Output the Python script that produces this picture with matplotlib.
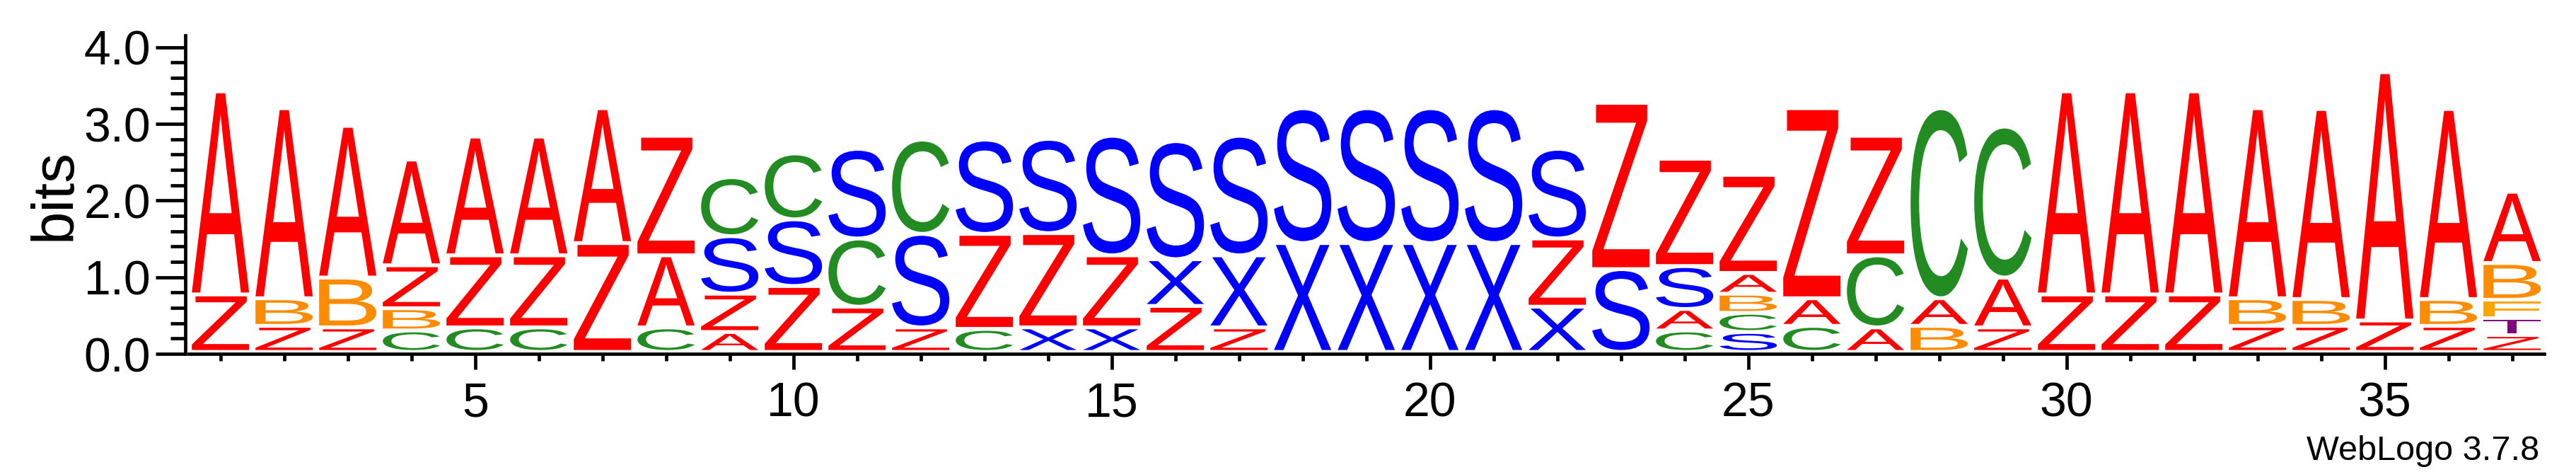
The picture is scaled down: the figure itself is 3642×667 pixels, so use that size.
import matplotlib
matplotlib.use("Agg")
import matplotlib.pyplot as plt
from matplotlib.textpath import TextPath
from matplotlib.patches import PathPatch
from matplotlib.font_manager import FontProperties
from matplotlib.transforms import Affine2D

plt.rcParams['font.family'] = ['Liberation Sans', 'DejaVu Sans']

# letters of each position, bottom to top, with their heights in bits
positions = list(range(1, 38))
stack_letters = [
    "ZA", "ZBA", "ZBA", "CBZA", "CZA", "CZA", "ZA", "CAZ", "AZSC", "ZSC",
    "ZCS", "ZSC", "CZS", "XZS", "XZS", "ZXS", "ZXS", "XS", "XS", "XS",
    "XS", "XZS", "SZ", "CASZ", "SCBAZ", "CAZ", "ACZ", "BAC", "ZAC", "ZA",
    "ZA", "ZA", "ZBA", "ZBA", "ZA", "ZBA", "ZTFBA",
]
stack_heights = [
    [0.75, 2.65], [0.34, 0.36, 2.48], [0.32, 0.65, 1.98], [0.28, 0.29, 0.56, 1.38],
    [0.32, 0.94, 1.55], [0.32, 0.94, 1.55], [1.42, 1.76], [0.32, 0.94, 1.56],
    [0.26, 0.50, 0.75, 0.77], [0.86, 0.87, 0.86], [0.59, 0.89, 1.17], [0.32, 1.22, 1.23],
    [0.30, 1.24, 1.23], [0.32, 1.23, 1.23], [0.32, 0.94, 1.56], [0.60, 0.61, 1.54],
    [0.32, 0.94, 1.56], [1.42, 1.76], [1.42, 1.76], [1.42, 1.76],
    [1.42, 1.76], [0.59, 0.89, 1.17], [1.08, 2.17], [0.28, 0.28, 0.56, 1.40],
    [0.26, 0.25, 0.25, 0.27, 1.28], [0.34, 0.36, 2.48], [0.32, 0.94, 1.56], [0.34, 0.36, 2.48],
    [0.32, 0.65, 1.97], [0.75, 2.65], [0.75, 2.65], [0.75, 2.65],
    [0.34, 0.36, 2.48], [0.34, 0.35, 2.48], [0.41, 3.24], [0.34, 0.35, 2.48],
    [0.22, 0.22, 0.24, 0.48, 0.93],
]
letter_colors = {
    'A': '#ff0000', 'Z': '#ff0000', 'B': '#ff8c00', 'F': '#ffa500',
    'C': '#228b22', 'S': '#0000ff', 'X': '#0000ff', 'T': '#800080',
}

W, H = 3642, 667
fig = plt.figure(figsize=(W / 100, H / 100), dpi=100)
ax = fig.add_axes([266.7 / W, 167 / H, 3330 / W, 450 / H])

fp = FontProperties(family='Liberation Sans')
gap = 0.05
col_w = 0.9


def draw_letter(ax, ch, xc, y0, y1, color):
    tp = TextPath((0, 0), ch, size=1, prop=fp)
    ext = tp.get_extents()
    tr = (Affine2D().translate(-ext.x0, -ext.y0)
          .scale(col_w / ext.width, (y1 - y0) / ext.height)
          .translate(xc - col_w / 2, y0))
    ax.add_patch(PathPatch(tr.transform_path(tp), facecolor=color,
                           edgecolor='none', lw=0))


for pos, letters, hs in zip(positions, stack_letters, stack_heights):
    y = 0.0
    for ch, h in zip(letters, hs):
        draw_letter(ax, ch, pos, y + gap, y + h, letter_colors[ch])
        y += h

ax.set_xlim(0.5, 37.5)
ax.set_ylim(0, 4.155)
for s in ['top', 'right']:
    ax.spines[s].set_visible(False)
ax.spines['left'].set_position(('outward', 3.4))
for s in ['left', 'bottom']:
    ax.spines[s].set_linewidth(3.4)

ax.set_yticks([0, 1, 2, 3, 4])
ax.set_yticklabels(['0.0', '1.0', '2.0', '3.0', '4.0'])
ax.set_yticks([i * 0.2 for i in range(21)], minor=True)
ax.set_xticks([5, 10, 15, 20, 25, 30, 35])
ax.set_xticks(positions, minor=True)
ax.tick_params(axis='y', which='major', length=30, width=3.4, pad=5, labelsize=49)
ax.tick_params(axis='y', which='minor', length=15, width=3.4)
ax.tick_params(axis='x', which='major', length=15.6, width=3.4, pad=12, labelsize=49)
ax.tick_params(axis='x', which='minor', length=7.2, width=3.4)

fig.text(78 / W, 1 - 275 / H, 'bits', rotation=90, ha='center', va='center', fontsize=60)
fig.text(3590 / W, 1 - 650 / H, 'WebLogo 3.7.8', ha='right', va='baseline', fontsize=35)

fig.savefig('out.png', dpi=100)
